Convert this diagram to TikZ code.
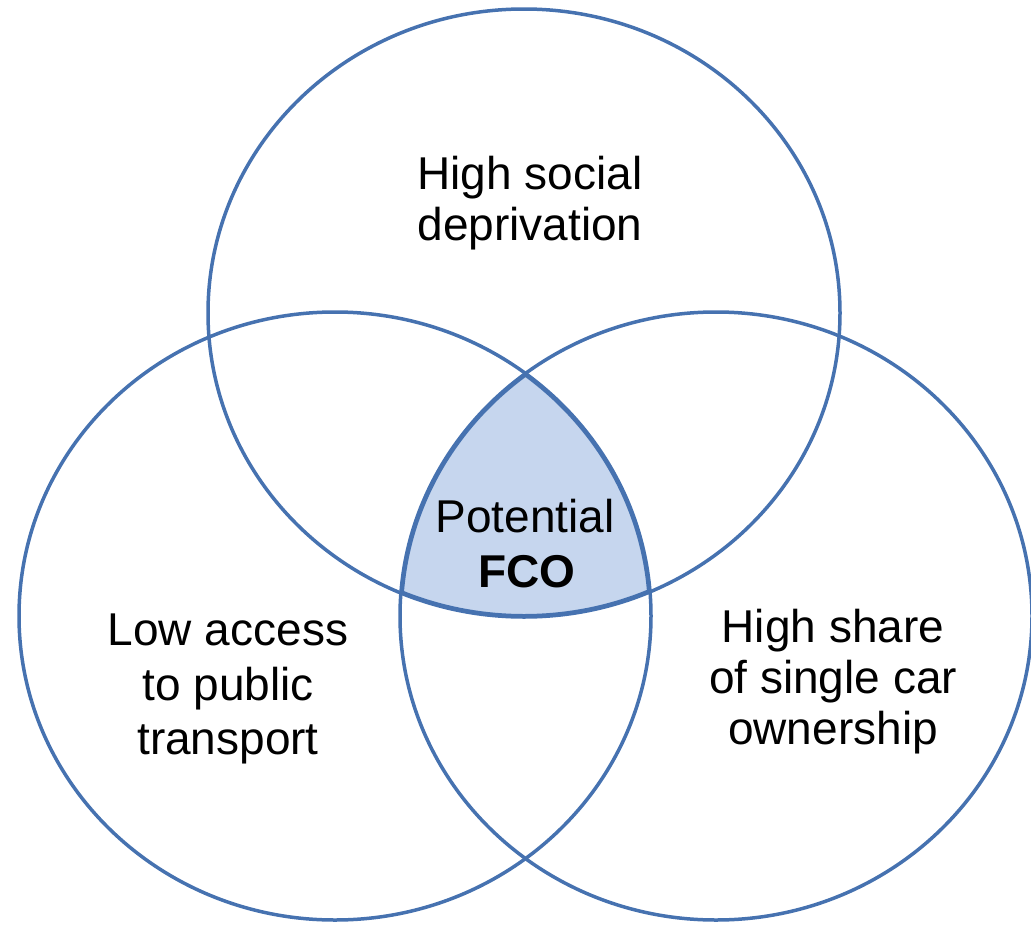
\documentclass[tikz,border=0pt]{standalone}
\usepackage{fontspec}
\setmainfont{Liberation Sans}
\definecolor{vennline}{RGB}{70,114,176}
\definecolor{vennfill}{RGB}{198,214,238}
\tikzset{
  vennset/.style={draw=vennline, line width=3.5pt},
  lbl/.style={anchor=base, inner sep=0pt, font=\fontsize{46}{53}\selectfont, text=black},
}
\begin{document}
\begin{tikzpicture}[x=1pt,y=-1pt]
\useasboundingbox (0,0) rectangle (1031,929);
\coordinate (ct) at (524,313);
\coordinate (cl) at (335,616);
\coordinate (cr) at (716,616);
% intersection region
\begin{scope}
  \clip (ct) ellipse [x radius=316, y radius=304];
  \clip (cl) ellipse [x radius=316, y radius=304];
  \clip (cr) ellipse [x radius=316, y radius=304];
  \fill[vennfill] (0,0) rectangle (1031,929);
  \draw[vennset, line width=6pt] (ct) ellipse [x radius=316, y radius=304];
  \draw[vennset, line width=6pt] (cl) ellipse [x radius=316, y radius=304];
  \draw[vennset, line width=6pt] (cr) ellipse [x radius=316, y radius=304];
\end{scope}
\draw[vennset] (ct) ellipse [x radius=316, y radius=304];
\draw[vennset] (cl) ellipse [x radius=316, y radius=304];
\draw[vennset] (cr) ellipse [x radius=316, y radius=304];
% labels
\node[lbl] (t1) at (530,189) {High social};
\node[lbl] (t2) at (530,240) {deprivation};
\node[lbl] (l1) at (228,645) {Low access};
\node[lbl] (l2) at (228,700) {to public};
\node[lbl] (l3) at (228,754) {transport};
\node[lbl] (r1) at (833,642) {High share};
\node[lbl] (r2) at (833,693) {of single car};
\node[lbl] (r3) at (833,744) {ownership};
\node[lbl] (c1) at (525,532) {Potential};
\node[lbl, font=\fontsize{46}{53}\selectfont\bfseries] (c2) at (527,587) {FCO};
\end{tikzpicture}
\end{document}
